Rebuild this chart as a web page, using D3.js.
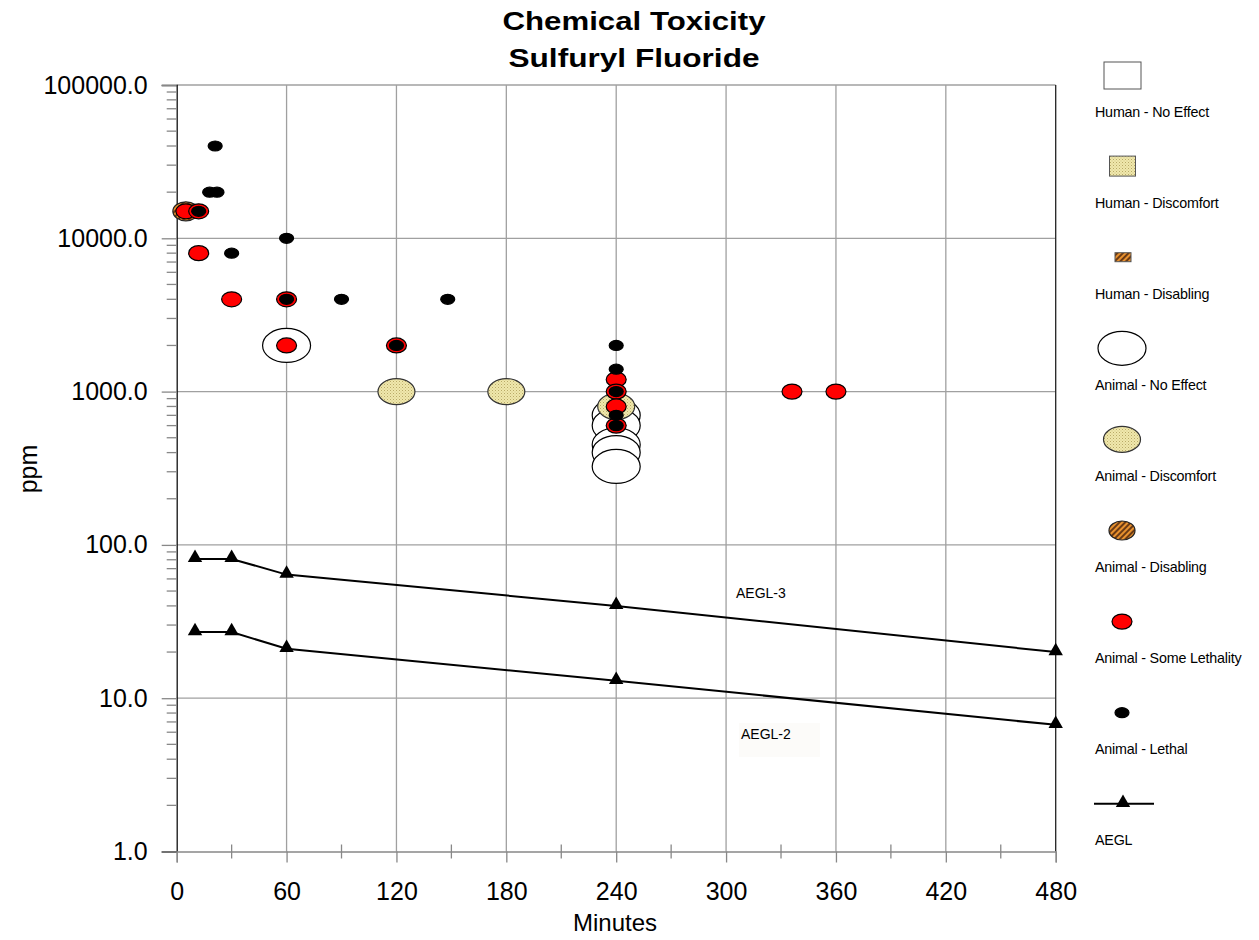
<!DOCTYPE html>
<html><head><meta charset="utf-8">
<script src="https://cdn.jsdelivr.net/npm/d3@7"></script>
<style>
html,body{margin:0;padding:0;background:#fff;}
svg text{font-family:"Liberation Sans",Arial,sans-serif;fill:#000;}
</style></head>
<body>
<svg id="chart" width="1259" height="940"></svg>
<script>
// ---- data ----
const titleLines = ["Chemical Toxicity", "Sulfuryl Fluoride"];
const xTicks = [0, 60, 120, 180, 240, 300, 360, 420, 480];
const yTicks = [1, 10, 100, 1000, 10000, 100000];
const xLabel = "Minutes";
const yLabel = "ppm";

const humanNoEffect = [];
const humanDiscomfort = [];
const humanDisabling = [];
const animalNoEffect = [[60, 2000], [240, 700], [240, 600], [240, 450], [240, 400], [240, 325]];
const animalDiscomfort = [[120, 1000], [180, 1000], [240, 800]];
const animalDisabling = [[5, 15000]];
const animalSomeLethality = [[5, 15000], [12, 15000], [12, 8000], [30, 4000], [60, 4000], [60, 2000], [120, 2000],
  [240, 1200], [240, 1000], [240, 800], [240, 600], [336, 1000], [360, 1000]];
const animalLethal = [[21, 40000], [18, 20000], [22, 20000], [12, 15000], [30, 8000], [60, 10000], [60, 4000],
  [90, 4000], [148, 4000], [120, 2000], [240, 2000], [240, 1400], [240, 1000], [240, 700], [240, 600]];
const aeglTimes = [10, 30, 60, 240, 480];
const aegl3 = [81, 81, 64, 40, 20];
const aegl2 = [27, 27, 21, 13, 6.7];
const legendLabels = ["Human - No Effect", "Human - Discomfort", "Human - Disabling", "Animal - No Effect",
  "Animal - Discomfort", "Animal - Disabling", "Animal - Some Lethality", "Animal - Lethal", "AEGL"];

// ---- setup ----
const svg = d3.select("#chart");
const defs = svg.append("defs");
const pd = defs.append("pattern").attr("id", "pDisc").attr("patternUnits", "userSpaceOnUse")
  .attr("width", 3).attr("height", 3);
pd.append("rect").attr("width", 3).attr("height", 3).attr("fill", "#f0e8ac");
pd.append("rect").attr("x", 0).attr("y", 0).attr("width", 1).attr("height", 1).attr("fill", "#b9aa68");
pd.append("rect").attr("x", 1.5).attr("y", 1.5).attr("width", 1).attr("height", 1).attr("fill", "#cfc183");
const pb = defs.append("pattern").attr("id", "pDis").attr("patternUnits", "userSpaceOnUse")
  .attr("width", 4).attr("height", 4).attr("patternTransform", "rotate(45)");
pb.append("rect").attr("width", 4).attr("height", 4).attr("fill", "#e8912e");
pb.append("rect").attr("width", 2).attr("height", 4).attr("fill", "#6b3a14");

const x = d3.scaleLinear().domain([0, 480]).range([176.7, 1055.7]);
const y = d3.scaleLog().domain([1, 100000]).range([851.5, 85]);
const X0 = x(0), X1 = x(480), Y0 = y(1), Y1 = y(100000);
const gridCol = "#a0a0a0";

const g = svg.append("g");
g.selectAll(".vg").data(xTicks.filter(t => t > 0 && t < 480)).join("line")
  .attr("x1", d => x(d)).attr("x2", d => x(d)).attr("y1", Y1).attr("y2", Y0)
  .attr("stroke", gridCol).attr("stroke-width", 1.3);
g.selectAll(".hg").data(yTicks.filter(t => t > 1)).join("line")
  .attr("x1", X0).attr("x2", X1).attr("y1", d => y(d)).attr("y2", d => y(d))
  .attr("stroke", gridCol).attr("stroke-width", 1.3);
g.append("line").attr("x1", X1).attr("x2", X1).attr("y1", Y1).attr("y2", Y0).attr("stroke", "#222").attr("stroke-width", 1.3);

// y axis
const minorY = [];
for (let e = 0; e < 5; e++) for (let k = 2; k <= 9; k++) minorY.push(k * Math.pow(10, e));
const yAxis = d3.axisLeft(y).tickValues(yTicks).tickFormat(d3.format(".1f")).tickSize(15).tickPadding(14);
const ya = svg.append("g").attr("transform", `translate(${X0},0)`).call(yAxis);
ya.select(".domain").attr("stroke", "#111").attr("stroke-width", 1.3);
ya.selectAll(".tick line").attr("stroke", "#888").attr("stroke-width", 1.3);
ya.selectAll("text").attr("font-size", 25).attr("font-family", "Liberation Sans, Arial, sans-serif");
svg.append("g").selectAll("line").data(minorY).join("line")
  .attr("x1", X0 - 10).attr("x2", X0).attr("y1", d => y(d)).attr("y2", d => y(d))
  .attr("stroke", "#888").attr("stroke-width", 1.3);

// x axis
const xAxis = d3.axisBottom(x).tickValues(xTicks).tickFormat(d3.format("d")).tickSize(11).tickPadding(20);
const xa = svg.append("g").attr("transform", `translate(0,${Y0})`).call(xAxis);
xa.select(".domain").attr("stroke", "#888").attr("stroke-width", 1.3);
xa.selectAll(".tick line").attr("stroke", "#888").attr("stroke-width", 1.3);
xa.selectAll("text").attr("font-size", 25).attr("font-family", "Liberation Sans, Arial, sans-serif");
const minorX = d3.range(30, 480, 60);
svg.append("g").selectAll("line").data(minorX).join("line")
  .attr("x1", d => x(d)).attr("x2", d => x(d)).attr("y1", Y0 - 7).attr("y2", Y0 + 7)
  .attr("stroke", "#888").attr("stroke-width", 1.3);

// axis titles
svg.append("text").attr("x", 615).attr("y", 931).attr("text-anchor", "middle").attr("font-size", 24).text(xLabel);
svg.append("text").attr("transform", "translate(37,469) rotate(-90)").attr("text-anchor", "middle").attr("font-size", 25).text(yLabel);

// title
const titleWidths = [263, 251];
svg.append("g").selectAll("text").data(titleLines).join("text")
  .attr("x", 634).attr("y", (d, i) => 30 + i * 36.5).attr("text-anchor", "middle")
  .attr("font-size", 25).attr("font-weight", "bold")
  .attr("textLength", (d, i) => titleWidths[i]).attr("lengthAdjust", "spacingAndGlyphs").text(d => d);

const styles = {
  noEffect: {rx: 24, ry: 17, fill: "#fff", stroke: "#000"},
  disc: {rx: 18.5, ry: 13, fill: "url(#pDisc)", stroke: "#333"},
  disab: {rx: 13, ry: 9.5, fill: "url(#pDis)", stroke: "#222"},
  some: {rx: 10, ry: 7.5, fill: "#ff0000", stroke: "#000"},
  lethal: {rx: 7, ry: 5, fill: "#000", stroke: "#000"}
};
function drawSeries(data, st) {
  svg.append("g").selectAll("ellipse").data(data).join("ellipse")
    .attr("cx", d => x(d[0])).attr("cy", d => y(d[1]))
    .attr("rx", st.rx).attr("ry", st.ry)
    .attr("fill", st.fill).attr("stroke", st.stroke).attr("stroke-width", 1.2);
}
const line = d3.line().x(d => x(d[0])).y(d => y(d[1]));
const tri = d3.symbol().type(d3.symbolTriangle).size(90);
[aegl3, aegl2].forEach(vals => {
  const pts = aeglTimes.map((t, i) => [t, vals[i]]);
  svg.append("path").attr("d", line(pts)).attr("fill", "none").attr("stroke", "#000").attr("stroke-width", 2);
  svg.append("g").selectAll("path").data(pts).join("path")
    .attr("transform", d => `translate(${x(d[0])},${y(d[1]) - 1})`).attr("d", tri).attr("fill", "#000");
});

drawSeries(animalNoEffect, styles.noEffect);
drawSeries(animalDiscomfort, styles.disc);
drawSeries(animalDisabling, styles.disab);
drawSeries(animalSomeLethality, styles.some);
drawSeries(animalLethal, styles.lethal);

svg.append("rect").attr("x", 739).attr("y", 723).attr("width", 81).attr("height", 34).attr("fill", "#fcfbf9");
svg.append("text").attr("x", 736).attr("y", 598).attr("font-size", 14).text("AEGL-3");
svg.append("text").attr("x", 741).attr("y", 739).attr("font-size", 14).text("AEGL-2");

// legend
const lg = svg.append("g");
const lx = 1122, ly0 = 75, step = 91.1;
lg.selectAll("text").data(legendLabels).join("text")
  .attr("x", 1095).attr("y", (d, i) => ly0 + i * step + 41.5).attr("font-size", 14.3)
  .attr("letter-spacing", -0.2).text(d => d);
lg.append("rect").attr("x", 1104).attr("y", 62).attr("width", 37).attr("height", 27).attr("fill", "#fff").attr("stroke", "#555");
lg.append("rect").attr("x", 1109.5).attr("y", ly0 + step - 10).attr("width", 26).attr("height", 20).attr("fill", "url(#pDisc)").attr("stroke", "#555");
lg.append("rect").attr("x", 1115).attr("y", ly0 + 2 * step - 4.5).attr("width", 16).attr("height", 9).attr("fill", "url(#pDis)").attr("stroke", "#555");
const legEll = [styles.noEffect, styles.disc, styles.disab, styles.some, styles.lethal];
legEll.forEach((st, i) => {
  lg.append("ellipse").attr("cx", lx).attr("cy", ly0 + (3 + i) * step)
    .attr("rx", st.rx).attr("ry", st.ry).attr("fill", st.fill).attr("stroke", st.stroke).attr("stroke-width", 1.2);
});
const aly = ly0 + 8 * step;
lg.append("line").attr("x1", 1094).attr("x2", 1154).attr("y1", aly).attr("y2", aly).attr("stroke", "#000").attr("stroke-width", 2);
lg.append("path").attr("transform", `translate(1123,${aly - 1})`).attr("d", tri).attr("fill", "#000");
</script>
</body></html>
